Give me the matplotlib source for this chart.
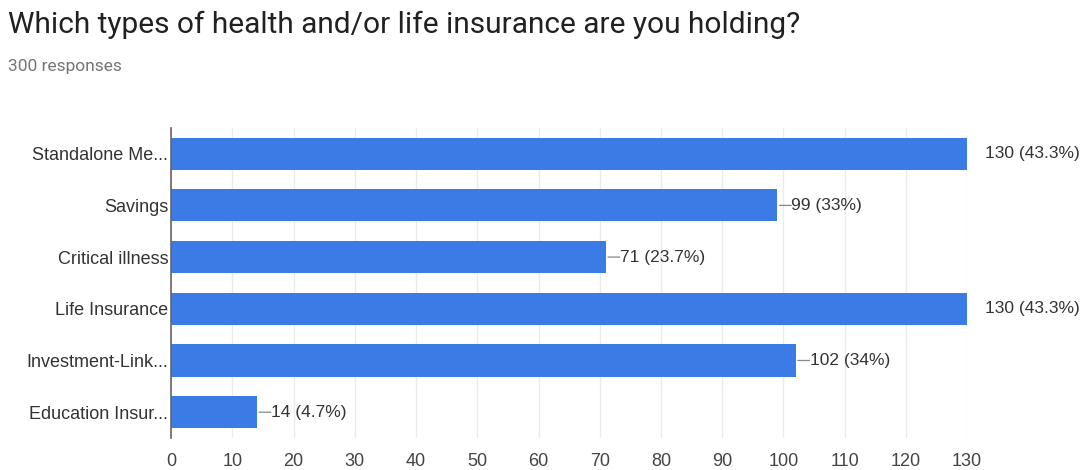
import matplotlib
matplotlib.use("Agg")
import matplotlib.pyplot as plt
from matplotlib.transforms import offset_copy

plt.rcParams['font.family'] = ['Liberation Sans', 'DejaVu Sans']

categories = ["Standalone Me...", "Savings", "Critical illness", "Life Insurance",
              "Investment-Link...", "Education Insur..."]
counts = [130, 99, 71, 130, 102, 14]
percents = ["43.3%", "33%", "23.7%", "43.3%", "34%", "4.7%"]
xticks = list(range(0, 131, 10))

bar_color = "#3a7be6"
fig = plt.figure(figsize=(10.83, 4.70), dpi=100)
fig.patch.set_facecolor("white")

fig.text(0.007, 0.948, "Which types of health and/or life insurance are you holding?",
         fontsize=21.5, color="#212121", va="center", family=["Roboto", "DejaVu Sans"])
fig.text(0.007, 0.858, "300 responses", fontsize=12.5, color="#757575", va="center",
         family=["Roboto", "DejaVu Sans"])

ax = fig.add_axes([0.158, 0.068, 0.735, 0.66])
ypos = list(range(len(categories)))
ax.barh(ypos, counts, height=0.62, color=bar_color, zorder=3)
ax.set_ylim(len(categories) - 0.5, -0.5)
ax.set_xlim(0, 130)
ax.set_xticks(xticks)
ax.set_yticks(ypos)
ax.set_yticklabels(categories, fontsize=13, color="#333333")
ax.tick_params(axis="x", length=0, labelsize=13, colors="#444444", pad=11)
ax.tick_params(axis="y", length=0, pad=2)
ax.grid(axis="x", color="#ebebeb", linewidth=1, zorder=0)
for s in ["top", "right", "bottom"]:
    ax.spines[s].set_visible(False)
ax.spines["left"].set_color("#666666")
ax.spines["left"].set_linewidth(1.2)
ax.spines["left"].set_zorder(4)

# value labels: short leader line then the count and share
for y, c, p in zip(ypos, counts, percents):
    label = f"{c} ({p})"
    if c >= ax.get_xlim()[1]:
        tr = offset_copy(ax.transData, fig=fig, x=13, y=0, units="points")
        ax.text(c, y, label, transform=tr, va="center", fontsize=12.5,
                color="#333333", clip_on=False)
    else:
        tr1 = offset_copy(ax.transData, fig=fig, x=1.5, y=0, units="points")
        tr2 = offset_copy(ax.transData, fig=fig, x=10, y=0, units="points")
        ax.annotate("", xy=(c, y), xytext=(c, y), xycoords=tr1, textcoords=tr2,
                    arrowprops=dict(arrowstyle="-", color="#888888", lw=0.9,
                                    shrinkA=0, shrinkB=0))
        ax.text(c, y, label, transform=tr2, va="center", fontsize=12.5,
                color="#333333", clip_on=False)

fig.savefig("out.png", dpi=100)
